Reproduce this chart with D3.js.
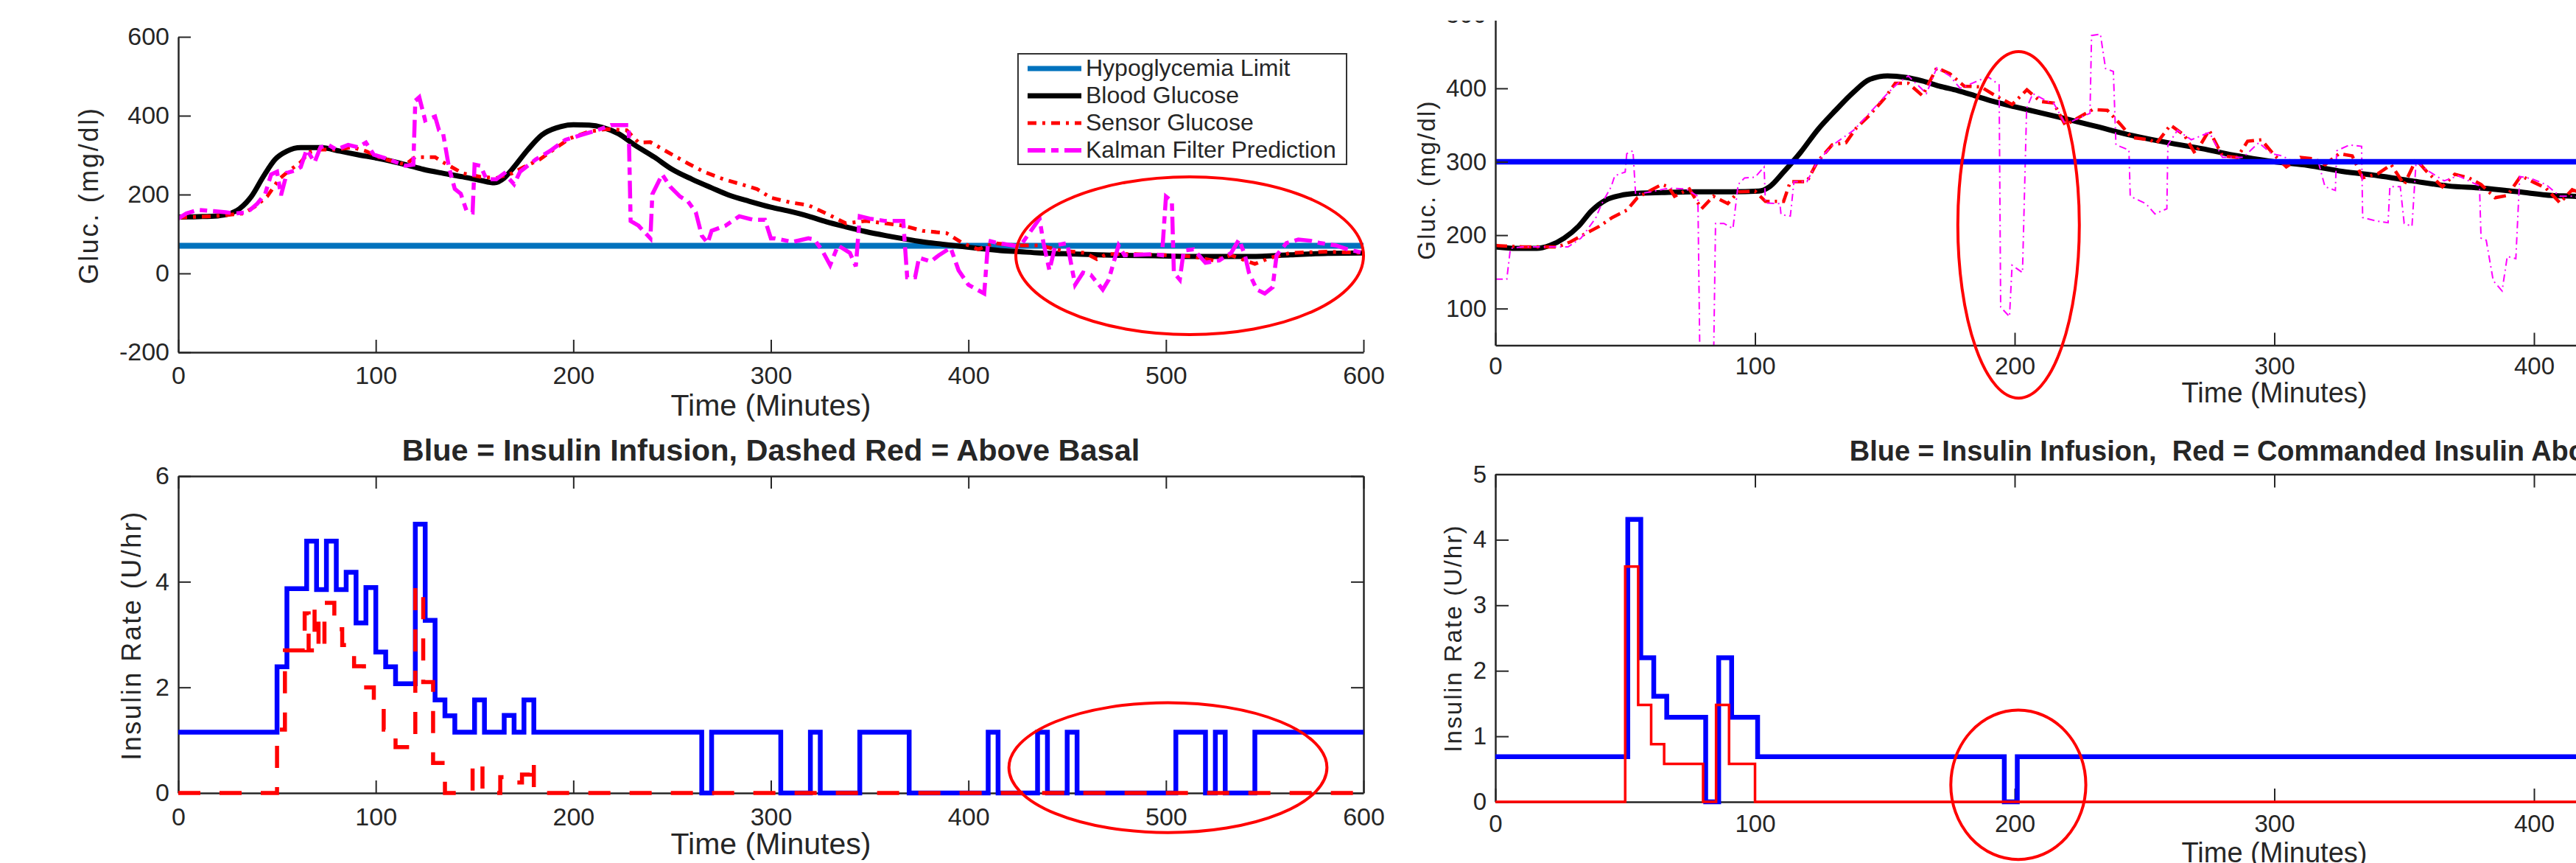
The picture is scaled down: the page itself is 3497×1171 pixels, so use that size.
<!DOCTYPE html>
<html><head><meta charset="utf-8">
<script src="https://cdn.jsdelivr.net/npm/d3@7"></script>
<style>
html,body{margin:0;padding:0;background:#fff;}
svg{display:block;}
text{font-family:"Liberation Sans", Arial, Helvetica, sans-serif; fill:#262626; white-space:pre;}
</style></head><body>
<svg id="chart" width="3497" height="1171"></svg>
<script>
// ---------------- DATA ----------------
const timeTicks = [0,100,200,300,400,500,600];
const tlYTicks = [-200,0,200,400,600];
const blYTicks = [0,2,4,6];
const trYTicks = [100,200,300,400,500];
const brYTicks = [0,1,2,3,4,5];

const tlLimit = 70;     // hypoglycemia limit (left)
const trLimit = 300;    // limit line (right)

const tlBlood = [[0,143],[10,144],[20,146],[25,150],[31,164],[37,195],[43,245],[49,289],[55,310],[62,319],[72,319],[82,310],[91,301],[101,292],[115,276],[124,264],[134,254],[144,245],[153,236],[160,230],[165,242],[169,264],[177,314],[184,351],[192,370],[200,377],[208,376],[215,370],[223,354],[231,326],[241,295],[250,264],[260,239],[270,217],[279,198],[289,183],[300,168],[309,158],[319,145],[328,131],[338,118],[348,106],[358,96],[367,88],[377,80],[387,74],[397,68],[406,63],[416,58],[426,55],[436,52],[455,49],[475,46],[494,45],[514,43],[524,43],[543,43],[563,47],[582,51],[600,52]];

const tlSensor = [[0,142],[18,145],[33,152],[39,170],[45,195],[51,239],[56,260],[62,282],[66,307],[72,314],[80,314],[88,320],[95,310],[103,292],[115,276],[120,295],[130,295],[134,282],[144,254],[153,245],[161,242],[169,254],[175,270],[183,289],[190,314],[198,342],[208,360],[217,366],[227,363],[233,332],[239,333],[248,307],[258,279],[266,258],[276,239],[285,226],[293,214],[300,192],[310,180],[319,173],[328,152],[338,127],[348,133],[358,127],[367,121],[377,108],[389,102],[397,77],[405,61],[413,77],[424,71],[436,71],[447,58],[459,52],[465,36],[470,49],[484,49],[503,46],[513,43],[524,33],[533,46],[545,24],[553,40],[563,52],[582,55],[600,52]];

const tlKalman = [[0,139],[4,152],[10,161],[18,158],[24,155],[29,152],[35,155],[40,177],[44,202],[47,251],[50,258],[52,198],[55,255],[59,261],[62,270],[65,314],[69,282],[72,320],[76,326],[80,314],[86,326],[91,320],[95,332],[99,301],[105,292],[115,273],[119,276],[120,438],[122,447],[125,388],[130,398],[132,363],[134,357],[137,270],[140,214],[143,202],[146,158],[149,155],[150,276],[153,273],[156,239],[161,239],[165,254],[170,226],[173,258],[181,289],[188,310],[196,339],[204,351],[212,363],[219,376],[228,376],[229,133],[233,121],[239,89],[240,201],[245,251],[249,220],[254,195],[258,183],[262,155],[265,96],[268,77],[270,108],[277,121],[284,145],[291,136],[297,136],[300,89],[302,89],[311,80],[319,89],[322,86],[326,58],[330,21],[334,71],[340,52],[343,18],[345,145],[350,139],[358,133],[367,133],[369,-10],[373,-10],[375,40],[381,30],[385,46],[391,65],[395,8],[400,-29],[408,-51],[410,83],[415,77],[426,68],[436,139],[438,77],[441,8],[444,71],[450,77],[454,-29],[458,2],[462,-4],[468,-41],[471,-16],[476,71],[479,46],[494,49],[498,46],[500,195],[503,183],[504,2],[507,-16],[509,58],[514,61],[520,27],[527,33],[533,52],[537,86],[540,46],[542,2],[546,-41],[550,-51],[554,-35],[556,46],[561,77],[567,86],[573,83],[578,77],[586,71],[592,61],[600,52]];

const blInfusion = [[0,1.15],[50,2.39],[55,3.87],[65,4.77],[70,3.85],[75,4.77],[80,3.85],[85,4.18],[90,3.22],[95,3.89],[100,2.67],[105,2.39],[110,2.07],[120,5.09],[125,3.27],[130,1.76],[135,1.46],[140,1.15],[150,1.76],[155,1.15],[165,1.47],[170,1.15],[175,1.76],[180,1.15],[265,0],[270,1.15],[305,0],[320,1.15],[325,0],[345,1.15],[370,0],[410,1.15],[415,0],[435,1.15],[440,0],[450,1.15],[455,0],[505,1.15],[520,0],[525,1.15],[530,0],[545,1.15],[600,1.15]];

const blAboveBasal = [[0,0],[50,1.2],[54,2.7],[64,3.4],[66,2.7],[69,3.5],[71,2.7],[74,3.6],[79,3.1],[83,2.8],[89,2.4],[94,2.0],[99,1.6],[104,1.2],[110,0.87],[120,3.9],[124,2.1],[129,0.57],[135,0],[149,0.57],[154,0],[163,0.3],[169,0.2],[174,0.35],[178,0.6],[180,0],[600,0]];

const trBlood = [[0,184],[8,182],[16,182],[21,186],[26.5,196],[32,212],[37,233],[42.6,248],[48,254],[55,257],[64,258],[77,259],[91,259],[101.5,260],[105.6,266],[111,286],[117.6,313],[124,343],[131,370],[138,395],[144,412],[151,417],[158,415],[164.5,410],[171,403],[178,397],[184.6,390],[191,383],[200,375],[206,370],[218,360],[231.6,348],[245,336],[259,326],[272,318],[286,308],[300,300],[313,295],[326,287],[340,281],[353,274],[367,267],[380,264],[394,259],[407,254],[415,253],[430,248]];

const trSensor = [[0,186],[10.5,184],[24,184],[29,191],[34.6,202],[40,212],[45,224],[50.6,234],[54.7,251],[58.7,259],[64,269],[66.7,266],[69,253],[74.7,263],[79.4,236],[84,253],[89.5,243],[93.5,259],[100,260],[104,246],[111,246],[113.6,273],[120,273],[124,300],[129.7,323],[135,326],[139,346],[144,363],[150,387],[154,407],[159,407],[164.5,390],[170,428],[175,420],[180.6,403],[187,402],[192.6,390],[199,378],[204.7,398],[210,382],[215,380],[219.5,350],[225,361],[230,371],[235.7,370],[241,350],[245,333],[252,330],[254.6,325],[260,350],[265.4,336],[269.5,311],[274.9,343],[280,308],[285.7,306],[289.7,328],[295,330],[300,309],[304.6,293],[310,306],[315.4,304],[319.5,296],[324.9,311],[330,308],[334,278],[340,284],[345,296],[350,269],[354.6,303],[358.6,287],[364.7,266],[369.5,283],[374.9,278],[379.6,269],[385,251],[389.7,254],[395,281],[399.9,272],[404.6,264],[410,244],[414.7,262],[420,255]];

const trKalman = [[0,140],[4.4,140],[5.8,182],[10.5,184],[28,184],[33,196],[38.6,223],[41,243],[44.6,266],[46,281],[50,286],[50.6,311],[53,315],[54,256],[60,259],[66.7,264],[73.4,263],[78,253],[78.8,20],[84,20],[84.8,216],[88,216],[91.5,209],[93.5,269],[96,278],[100,279],[103.5,293],[104,244],[109.6,243],[110,228],[113.6,226],[115,273],[120,273],[124,300],[130,323],[138,343],[144,366],[151,393],[155,407],[159,417],[166,393],[170,428],[175,417],[179,400],[187,412],[190,415],[194,405],[194.6,102],[198,89],[199,159],[203,149],[204.6,373],[207,393],[212.7,382],[215,380],[219.5,351],[225,360],[229,366],[229.6,472],[233,474],[235,427],[238,423],[239,323],[244,316],[244.5,253],[250.5,243],[254,229],[258.6,236],[259,323],[262.7,343],[268,330],[275,340],[280,306],[288,306],[294,326],[299,311],[303,308],[308.6,298],[316.7,303],[319.5,266],[323.5,261],[324,315],[329,323],[333.6,321],[334,224],[339.7,219],[343.8,217],[344.5,266],[348.5,266],[350,216],[353,212],[354.6,301],[358.6,289],[365.4,274],[370.8,281],[379,267],[379.6,196],[381.6,193],[384.3,138],[387.7,124],[389.7,171],[393,168],[394.5,280],[399,277],[404.6,269],[410,253],[414.7,253],[420,250]];

const brInfusion = [[0,0.69],[51,4.31],[56,2.2],[61,1.61],[66,1.29],[81,0],[86,2.2],[91,1.29],[101,0.69],[196,0],[201,0.69],[600,0.69]];
const brCommanded = [[0,0],[50,3.59],[55,1.48],[60,0.88],[65,0.58],[80,0],[85,1.48],[90,0.58],[100,0],[600,0]];

// annotation ellipses in data units: [centerTime, centerValue, radiusTime, radiusValue]
const tlEllipse = [512, 45, 88, 200];
const blEllipse = [501, 0.48, 80.5, 1.23];
const trEllipse = [201.5, 214, 23.4, 236];
const brEllipse = [201.4, 0.26, 26, 1.14];

const legendLabels = ["Hypoglycemia Limit","Blood Glucose","Sensor Glucose","Kalman Filter Prediction"];
const titleLeft = "Blue = Insulin Infusion, Dashed Red = Above Basal";
const titleRight = "Blue = Insulin Infusion,  Red = Commanded Insulin Above Basal";

// ---------------- DRAW ----------------
const FONT = '"Liberation Sans", Arial, Helvetica, sans-serif';
const AX = '#262626';
const svg = d3.select('#chart');
svg.append('rect').attr('width',3497).attr('height',1171).attr('fill','#fff');

const xL = d3.scaleLinear().domain([0,600]).range([242,1851]);
const xR = d3.scaleLinear().domain([0,600]).range([2030,4145]);
const yTL = d3.scaleLinear().domain([-200,600]).range([478,50]);
const yBL = d3.scaleLinear().domain([0,6]).range([1076,646]);
const yTR = d3.scaleLinear().domain([50,500]).range([468.5,20.3]);
const yBR = d3.scaleLinear().domain([0,5]).range([1088,643.5]);

function styleAxis(sel, fs){
  sel.select('.domain').attr('stroke',AX).attr('stroke-width',2.5);
  sel.selectAll('.tick line').attr('stroke',AX).attr('stroke-width',2);
  sel.selectAll('.tick text').attr('fill',AX).style('font-size',fs+'px').style('font-family',FONT);
}
function axes(x, y, yTicks, o){
  const g = svg.append('g');
  const yb = y.range()[0], yt = y.range()[1];
  const gx = g.append('g').attr('transform',`translate(0,${yb})`)
    .call(d3.axisBottom(x).tickValues(timeTicks).tickFormat(d=>String(d)).tickSizeInner(-o.tick).tickSizeOuter(0).tickPadding(o.xPad));
  styleAxis(gx, o.fs);
  const gy = g.append('g').attr('transform',`translate(${x(0)},0)`)
    .call(d3.axisLeft(y).tickValues(yTicks).tickFormat(d=>String(d)).tickSizeInner(-o.tick).tickSizeOuter(0).tickPadding(o.yPad));
  styleAxis(gy, o.fs);
  if (o.box){
    const gt = g.append('g').attr('transform',`translate(0,${yt})`)
      .call(d3.axisTop(x).tickValues(timeTicks).tickFormat('').tickSizeInner(-o.tick).tickSizeOuter(0));
    styleAxis(gt, o.fs);
    const gr = g.append('g').attr('transform',`translate(${x(600)},0)`)
      .call(d3.axisRight(y).tickValues(yTicks).tickFormat('').tickSizeInner(-o.tick).tickSizeOuter(0));
    styleAxis(gr, o.fs);
  }
}
function clip(id, x, y){
  svg.append('clipPath').attr('id',id).append('rect')
    .attr('x',x(0)).attr('y',y.range()[1]-10).attr('width',x(600)-x(0)).attr('height',y.range()[0]-y.range()[1]+10);
  return `url(#${id})`;
}
function line(data, x, y, curve){
  return d3.line().x(d=>x(d[0])).y(d=>y(d[1])).curve(curve||d3.curveLinear)(data);
}
function path(d, color, w, dash, clipUrl){
  const p = svg.append('path').attr('d',d).attr('fill','none').attr('stroke',color)
    .attr('stroke-width',w).attr('stroke-linejoin','miter');
  if (dash) p.attr('stroke-dasharray',dash);
  if (clipUrl) p.attr('clip-path',clipUrl);
  return p;
}
function ellipse(e, x, y){
  svg.append('ellipse').attr('cx',x(e[0])).attr('cy',y(e[1]))
    .attr('rx',Math.abs(x(e[0]+e[2])-x(e[0]))).attr('ry',Math.abs(y(e[1]+e[3])-y(e[1])))
    .attr('fill','none').attr('stroke','#ff0000').attr('stroke-width',4);
}
function label(txt, x, y, fs, rot, opts){
  const t = svg.append('text').attr('text-anchor','middle').style('font-size',fs+'px')
    .style('font-family',FONT).attr('fill',AX).text(txt);
  if (rot) t.attr('transform',`translate(${x},${y}) rotate(-90)`).attr('dy','0.32em');
  else t.attr('x',x).attr('y',y);
  if (opts && opts.bold) t.style('font-weight','bold').attr('fill','#000');
  if (opts && opts.ls) t.style('letter-spacing',opts.ls+'px');
  return t;
}

// ===== Top-left =====
const tlClip = clip('tlc', xL, yTL);
path(line([[0,tlLimit],[600,tlLimit]], xL, yTL), '#0072BD', 8);
path(line(tlBlood, xL, yTL, d3.curveMonotoneX), '#000', 7);
path(line(tlSensor, xL, yTL), '#ff0000', 5, '12,8,4,8');
path(line(tlKalman, xL, yTL), '#ff00ff', 5.5, '24,8,10,8', tlClip);
axes(xL, yTL, tlYTicks, {tick:17, xPad:19, yPad:12, fs:34, box:false});
label('Time (Minutes)', xL(300), 564, 41);
label('Gluc. (mg/dl)', 121, 265, 36, true, {ls:2.7});

// legend
const lg = svg.append('g');
lg.append('rect').attr('x',1382).attr('y',73).attr('width',446).attr('height',150)
  .attr('fill','#fff').attr('stroke','#333').attr('stroke-width',2);
const legStyles = [
  {c:'#0072BD', w:7, dash:null},
  {c:'#000', w:7, dash:null},
  {c:'#ff0000', w:5, dash:'12,8,4,8'},
  {c:'#ff00ff', w:6, dash:'24,8,10,8'}
];
legendLabels.forEach((lab,i)=>{
  const cy = 93 + i*37;
  const p = lg.append('line').attr('x1',1395).attr('x2',1468).attr('y1',cy).attr('y2',cy)
    .attr('stroke',legStyles[i].c).attr('stroke-width',legStyles[i].w);
  if (legStyles[i].dash) p.attr('stroke-dasharray',legStyles[i].dash);
  lg.append('text').attr('x',1474).attr('y',cy+10).style('font-size','32px').style('font-family',FONT)
    .attr('fill','#111').text(lab);
});
ellipse(tlEllipse, xL, yTL);

// ===== Bottom-left =====
axes(xL, yBL, blYTicks, {tick:17, xPad:20, yPad:12, fs:34, box:true});
path(line(blInfusion, xL, yBL, d3.curveStepAfter), '#0000ff', 6.5);
path(line(blAboveBasal, xL, yBL, d3.curveStepAfter), '#ff0000', 5.5, '30,26');
label(titleLeft, xL(300), 625, 41.5, false, {bold:true});
label('Time (Minutes)', xL(300), 1159, 41);
label('Insulin Rate (U/hr)', 179, 862, 36, true, {ls:2.5});
ellipse(blEllipse, xL, yBL);

// ===== Top-right =====
const trClip = clip('trc', xR, yTR);
path(line(trBlood, xR, yTR, d3.curveMonotoneX), '#000', 7, null, trClip);
path(line(trSensor, xR, yTR), '#ff0000', 4.5, '16,7,3,7', trClip);
path(line(trKalman, xR, yTR), '#ff00ff', 2, '10,5,2,5', trClip);
path(line([[0,trLimit],[600,trLimit]], xR, yTR), '#0000ff', 7.5);
axes(xR, yTR, trYTicks, {tick:17, xPad:16.5, yPad:12, fs:33, box:false});
label('Time (Minutes)', xR(300), 546, 38);
label('Gluc. (mg/dl)', 1937, 244, 33, true, {ls:2.2});
ellipse(trEllipse, xR, yTR);

// ===== Bottom-right =====
axes(xR, yBR, brYTicks, {tick:18, xPad:18, yPad:12, fs:33, box:true});
path(line(brInfusion, xR, yBR, d3.curveStepAfter), '#0000ff', 6.5);
path(line(brCommanded, xR, yBR, d3.curveStepAfter), '#ff0000', 3.5);
label(titleRight, xR(300), 625, 38, false, {bold:true});
label('Time (Minutes)', xR(300), 1170, 38);
label('Insulin Rate (U/hr)', 1973, 866, 33, true, {ls:2.2});
ellipse(brEllipse, xR, yBR);

// right-half screenshot is cropped at the top
svg.append('rect').attr('x',1895).attr('y',0).attr('width',3497-1895).attr('height',28).attr('fill','#fff');
</script>
</body></html>
